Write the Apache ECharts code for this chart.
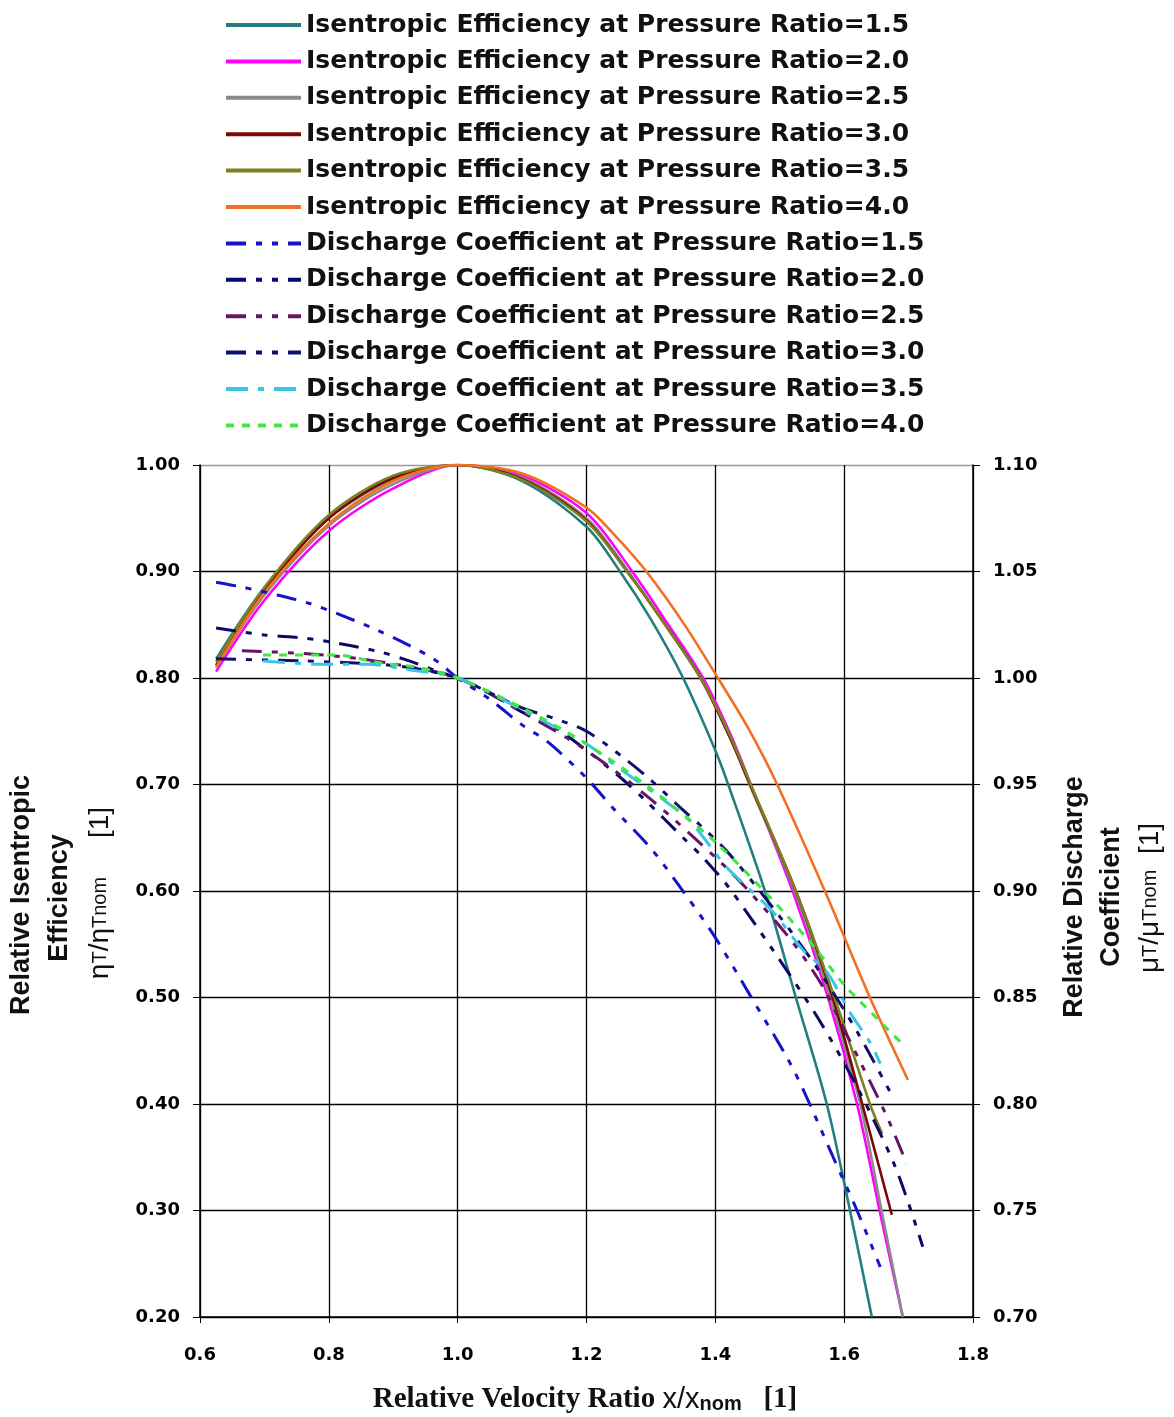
<!DOCTYPE html>
<html><head><meta charset="utf-8">
<script src="https://cdn.jsdelivr.net/npm/echarts@6/dist/echarts.min.js"></script>
<style>html,body{margin:0;padding:0;background:#fff}#chart{width:1174px;height:1417px}</style>
</head><body><div id="chart"></div>
<script>
// ---- Data ----
const seriesNames = [
  'Isentropic Efficiency at Pressure Ratio=1.5',
  'Isentropic Efficiency at Pressure Ratio=2.0',
  'Isentropic Efficiency at Pressure Ratio=2.5',
  'Isentropic Efficiency at Pressure Ratio=3.0',
  'Isentropic Efficiency at Pressure Ratio=3.5',
  'Isentropic Efficiency at Pressure Ratio=4.0',
  'Discharge Coefficient at Pressure Ratio=1.5',
  'Discharge Coefficient at Pressure Ratio=2.0',
  'Discharge Coefficient at Pressure Ratio=2.5',
  'Discharge Coefficient at Pressure Ratio=3.0',
  'Discharge Coefficient at Pressure Ratio=3.5',
  'Discharge Coefficient at Pressure Ratio=4.0'
];
const xTickValues = [0.6, 0.8, 1.0, 1.2, 1.4, 1.6, 1.8];
const leftTickValues = [0.2, 0.3, 0.4, 0.5, 0.6, 0.7, 0.8, 0.9, 1.0];
const rightTickValues = [0.70, 0.75, 0.80, 0.85, 0.90, 0.95, 1.00, 1.05, 1.10];

// Isentropic efficiency (left axis)
const eff15X = [0.625, 0.7, 0.8, 0.9, 1.0, 1.1, 1.2, 1.252, 1.3, 1.35, 1.4, 1.42, 1.477, 1.525, 1.573, 1.609, 1.643];
const eff15Y = [0.818, 0.885, 0.95, 0.987, 1.0, 0.985, 0.942, 0.90, 0.855, 0.80, 0.732, 0.70, 0.60, 0.50, 0.40, 0.30, 0.20];
const eff20X = [0.625, 0.7, 0.8, 0.9, 1.0, 1.1, 1.2, 1.271, 1.327, 1.381, 1.425, 1.455, 1.52, 1.575, 1.62, 1.655, 1.691];
const eff20Y = [0.806, 0.873, 0.938, 0.978, 1.0, 0.99, 0.955, 0.90, 0.85, 0.80, 0.745, 0.70, 0.60, 0.50, 0.40, 0.30, 0.20];
const eff25X = [0.625, 0.7, 0.8, 0.9, 1.0, 1.1, 1.2, 1.265, 1.322, 1.378, 1.422, 1.453, 1.523, 1.578, 1.625, 1.658, 1.691];
const eff25Y = [0.81, 0.878, 0.943, 0.982, 1.0, 0.988, 0.95, 0.90, 0.85, 0.80, 0.745, 0.70, 0.60, 0.50, 0.40, 0.30, 0.20];
const eff30X = [0.625, 0.7, 0.8, 0.9, 1.0, 1.1, 1.2, 1.263, 1.32, 1.377, 1.422, 1.454, 1.525, 1.582, 1.628, 1.674];
const eff30Y = [0.812, 0.882, 0.95, 0.988, 1.0, 0.987, 0.948, 0.90, 0.852, 0.80, 0.745, 0.70, 0.60, 0.50, 0.40, 0.296];
const eff35X = [0.625, 0.7, 0.8, 0.9, 1.0, 1.1, 1.2, 1.263, 1.32, 1.377, 1.422, 1.455, 1.525, 1.585, 1.64, 1.659];
const eff35Y = [0.815, 0.885, 0.953, 0.99, 1.0, 0.986, 0.947, 0.90, 0.852, 0.80, 0.747, 0.70, 0.60, 0.50, 0.40, 0.372];
const eff40X = [0.625, 0.7, 0.8, 0.9, 1.0, 1.1, 1.2, 1.244, 1.293, 1.35, 1.404, 1.45, 1.496, 1.57, 1.64, 1.699];
const eff40Y = [0.81, 0.88, 0.945, 0.985, 1.0, 0.992, 0.96, 0.934, 0.90, 0.852, 0.80, 0.754, 0.70, 0.60, 0.50, 0.4225];

// Discharge coefficient (right axis)
const dc15X = [0.625, 0.66, 0.72, 0.77, 0.815, 0.875, 0.92, 0.965, 1.0, 1.05, 1.1, 1.14, 1.2, 1.241, 1.3, 1.34, 1.396, 1.454, 1.511, 1.536, 1.583, 1.62, 1.656];
const dc15Y = [1.045, 1.043, 1.039, 1.035, 1.030, 1.0225, 1.016, 1.0085, 1.0, 0.99, 0.978, 0.97, 0.953, 0.939, 0.92, 0.904, 0.880, 0.851, 0.822, 0.807, 0.775, 0.75, 0.7235];
const dc20X = [0.625, 0.7, 0.76, 0.82, 0.88, 0.92, 0.97, 1.0, 1.05, 1.1, 1.15, 1.2, 1.25, 1.29, 1.35, 1.38, 1.42, 1.49, 1.56, 1.62, 1.68, 1.722];
const dc20Y = [1.0235, 1.0202, 1.0188, 1.016, 1.0122, 1.0085, 1.003, 1.0, 0.993, 0.984, 0.977, 0.966, 0.954, 0.943, 0.925, 0.916, 0.902, 0.872, 0.840, 0.808, 0.770, 0.733];
const dc25X = [0.665, 0.76, 0.85, 0.93, 1.0, 1.1, 1.2, 1.3, 1.41, 1.455, 1.52, 1.567, 1.6, 1.665, 1.697];
const dc25Y = [1.0128, 1.0115, 1.009, 1.005, 1.0, 0.984, 0.966, 0.943, 0.913, 0.899, 0.876, 0.855, 0.835, 0.795, 0.772];
const dc30X = [0.625, 0.76, 0.87, 0.93, 1.0, 1.05, 1.1, 1.15, 1.2, 1.26, 1.3, 1.35, 1.376, 1.42, 1.5, 1.56, 1.62, 1.676];
const dc30Y = [1.009, 1.008, 1.0066, 1.0047, 1.0, 0.993, 0.986, 0.981, 0.975, 0.962, 0.952, 0.938, 0.931, 0.918, 0.888, 0.863, 0.834, 0.803];
const dc35X = [0.698, 0.79, 0.86, 0.92, 1.0, 1.1, 1.2, 1.24, 1.314, 1.36, 1.418, 1.449, 1.49, 1.537, 1.573, 1.609, 1.64, 1.656];
const dc35Y = [1.008, 1.0065, 1.0065, 1.004, 1.0, 0.985, 0.969, 0.960, 0.944, 0.933, 0.911, 0.902, 0.89, 0.872, 0.862, 0.843, 0.829, 0.819];
const dc40X = [0.698, 0.81, 0.836, 0.864, 0.892, 0.934, 1.0, 1.1, 1.2, 1.3, 1.4, 1.485, 1.55, 1.6, 1.645, 1.691];
const dc40Y = [1.0108, 1.0108, 1.0099, 1.008, 1.0066, 1.0052, 1.0, 0.986, 0.969, 0.948, 0.923, 0.897, 0.875, 0.856, 0.842, 0.828];

// ---- Build ----
const zip = (xs, ys) => xs.map((x, i) => [x, ys[i]]);
const dataSets = [
  [eff15X, eff15Y], [eff20X, eff20Y], [eff25X, eff25Y], [eff30X, eff30Y], [eff35X, eff35Y], [eff40X, eff40Y],
  [dc15X, dc15Y], [dc20X, dc20Y], [dc25X, dc25Y], [dc30X, dc30Y], [dc35X, dc35Y], [dc40X, dc40Y]
];
const colors = ['#237F7F', '#FF00FF', '#8A8A8A', '#7A0808', '#7F8020', '#F27023',
                '#1414C8', '#0A0A66', '#661466', '#10106E', '#38C6E8', '#3EE83E'];
const dashDD = [20, 10, 6, 10, 6, 10];
const dashes = ['solid','solid','solid','solid','solid','solid', dashDD, dashDD, dashDD, dashDD, [22, 10, 6, 10], [8, 8]];

const series = seriesNames.map((name, i) => ({
  name: name,
  type: 'line',
  yAxisIndex: i < 6 ? 0 : 1,
  data: zip(dataSets[i][0], dataSets[i][1]),
  smooth: 0.3,
  symbol: 'none',
  showSymbol: false,
  color: colors[i],
  lineStyle: { color: colors[i], width: i < 6 ? 2.6 : 3, type: dashes[i] },
  z: i < 6 ? 2 : 3,
  animation: false
}));

const chart = echarts.init(document.getElementById('chart'), null, { renderer: 'canvas' });
const labelFont = { fontFamily: 'DejaVu Sans', fontWeight: 'bold', fontSize: 18, color: '#000' };
const gridColors = leftTickValues.map((v, i) => i === leftTickValues.length - 1 ? '#999' : '#000');

chart.setOption({
  backgroundColor: '#fff',
  animation: false,
  grid: { left: 200, right: 201, top: 465, bottom: 100, containLabel: false },
  legend: {
    orient: 'vertical', left: 224, top: 10, padding: 0,
    itemWidth: 75, itemHeight: 14, itemGap: 6.4,
    lineStyle: { width: 4 },
    itemStyle: { opacity: 0 },
    textStyle: { fontFamily: 'DejaVu Sans', fontWeight: 'bold', fontSize: 25, color: '#111', lineHeight: 30 },
    data: seriesNames
  },
  xAxis: {
    type: 'value', min: xTickValues[0], max: xTickValues[xTickValues.length - 1], interval: 0.2,
    axisLine: { show: true, onZero: false, lineStyle: { color: '#000', width: 1.5 } },
    axisTick: { show: true, length: 6, lineStyle: { color: '#000' } },
    axisLabel: Object.assign({ margin: 29, formatter: v => v.toFixed(1) }, labelFont),
    splitLine: { show: true, lineStyle: { color: '#000', width: 1.3 } }
  },
  yAxis: [
    {
      type: 'value', min: leftTickValues[0], max: leftTickValues[leftTickValues.length - 1], interval: 0.1,
      position: 'left',
      axisLine: { show: true, lineStyle: { color: '#000', width: 1.5 } },
      axisTick: { show: true, length: 7, lineStyle: { color: '#000' } },
      axisLabel: Object.assign({ margin: 20, formatter: v => v.toFixed(2) }, labelFont),
      splitLine: { show: true, lineStyle: { color: gridColors, width: 1.3 } }
    },
    {
      type: 'value', min: rightTickValues[0], max: rightTickValues[rightTickValues.length - 1], interval: 0.05,
      position: 'right',
      axisLine: { show: true, lineStyle: { color: '#000', width: 1.5 } },
      axisTick: { show: true, length: 7, lineStyle: { color: '#000' } },
      axisLabel: Object.assign({ margin: 20, formatter: v => v.toFixed(2) }, labelFont),
      splitLine: { show: false }
    }
  ],
  graphic: [
    { type: 'text', x: 22, y: 895, rotation: Math.PI / 2,
      style: { text: 'Relative Isentropic', fontFamily: 'Liberation Sans', fontWeight: 'bold', fontSize: 27, fill: '#111', textAlign: 'center', textVerticalAlign: 'middle' } },
    { type: 'text', x: 60, y: 898, rotation: Math.PI / 2,
      style: { text: 'Efficiency', fontFamily: 'Liberation Sans', fontWeight: 'bold', fontSize: 27, fill: '#111', textAlign: 'center', textVerticalAlign: 'middle' } },
    { type: 'text', x: 100, y: 893, rotation: Math.PI / 2,
      style: { text: '{g|η}{s|T}{g|/η}{s|Tnom}{g|     [1]}', textAlign: 'center', textVerticalAlign: 'middle', fill: '#111',
        rich: { g: { fontFamily: 'Liberation Sans', fontSize: 28, fill: '#111' }, s: { fontFamily: 'Liberation Sans', fontSize: 20, fill: '#111' } } } },
    { type: 'text', x: 1075, y: 897, rotation: Math.PI / 2,
      style: { text: 'Relative Discharge', fontFamily: 'Liberation Sans', fontWeight: 'bold', fontSize: 27, fill: '#111', textAlign: 'center', textVerticalAlign: 'middle' } },
    { type: 'text', x: 1112, y: 897, rotation: Math.PI / 2,
      style: { text: 'Coefficient', fontFamily: 'Liberation Sans', fontWeight: 'bold', fontSize: 27, fill: '#111', textAlign: 'center', textVerticalAlign: 'middle' } },
    { type: 'text', x: 1150, y: 898, rotation: Math.PI / 2,
      style: { text: '{g|μ}{s|T}{g|/μ}{s|Tnom}{g|  [1]}', textAlign: 'center', textVerticalAlign: 'middle', fill: '#111',
        rich: { g: { fontFamily: 'Liberation Sans', fontSize: 28, fill: '#111' }, s: { fontFamily: 'Liberation Sans', fontSize: 20, fill: '#111' } } } },
    { type: 'text', x: 585, y: 1400,
      style: { text: '{a|Relative Velocity Ratio }{b|x/x}{c|nom}{a|   [1]}', textAlign: 'center', textVerticalAlign: 'middle', fill: '#111',
        rich: {
          a: { fontFamily: 'Liberation Serif', fontWeight: 'bold', fontSize: 29, fill: '#111' },
          b: { fontFamily: 'Liberation Sans', fontSize: 29, fill: '#111' },
          c: { fontFamily: 'Liberation Sans', fontWeight: 'bold', fontSize: 20, fill: '#111', verticalAlign: 'bottom' }
        } } }
  ],
  series: series
});
</script>
</body></html>
